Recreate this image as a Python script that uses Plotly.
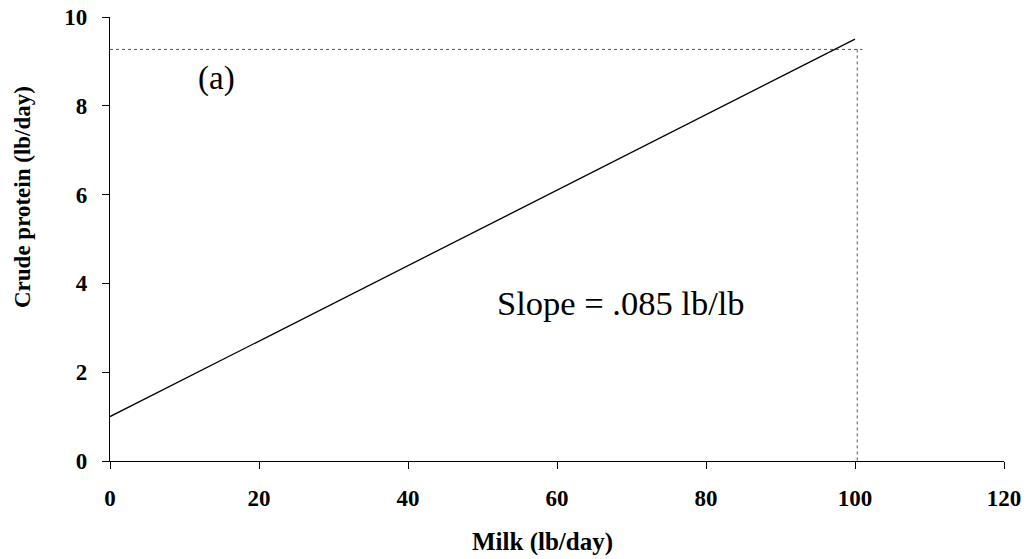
import plotly.graph_objects as go

# Crude protein requirement vs. milk yield
milk = [0, 100]
protein = [1.0, 9.5]

# Dotted reference lines marking the upper point
ref_h_x = [0, 101]
ref_h_y = [9.27, 9.27]
ref_v_x = [100.3, 100.3]
ref_v_y = [9.27, 0]

x_ticks = [0, 20, 40, 60, 80, 100, 120]
y_ticks = [0, 2, 4, 6, 8, 10]

SERIF = "Liberation Serif, Times New Roman, serif"

W, H = 1028, 559
ML, MR, MT, MB = 110, 24, 17, 98
plot_w = W - ML - MR
plot_h = H - MT - MB

fig = go.Figure()
fig.add_trace(go.Scatter(x=ref_h_x, y=ref_h_y, mode="lines",
                         line=dict(color="#555555", width=1, dash="dot"),
                         hoverinfo="skip", showlegend=False))
fig.add_trace(go.Scatter(x=ref_v_x, y=ref_v_y, mode="lines",
                         line=dict(color="#555555", width=1, dash="dot"),
                         hoverinfo="skip", showlegend=False))
fig.add_trace(go.Scatter(x=milk, y=protein, mode="lines",
                         line=dict(color="black", width=1.3),
                         showlegend=False))

fig.add_annotation(x=14.3, y=8.62, text="(a)", showarrow=False,
                   font=dict(family=SERIF, size=33, color="black"))
fig.add_annotation(x=68.6, y=3.56, text="Slope = .085 lb/lb", showarrow=False,
                   font=dict(family=SERIF, size=34.5, color="black"))

# Axis titles placed at pixel positions converted to paper coordinates
fig.add_annotation(x=(542 - ML) / plot_w, xref="paper",
                   y=(H - MB - 542) / plot_h, yref="paper",
                   xanchor="center", yanchor="middle",
                   text="Milk (lb/day)", showarrow=False,
                   font=dict(family=SERIF, size=25, color="black", weight="bold"))
fig.add_annotation(x=(23 - ML) / plot_w, xref="paper",
                   y=(H - MB - 197) / plot_h, yref="paper",
                   xanchor="center", yanchor="middle",
                   text="Crude protein (lb/day)", showarrow=False, textangle=-90,
                   font=dict(family=SERIF, size=23, color="black", weight="bold"))

axis_common = dict(ticks="outside", ticklen=7, tickcolor="black", tickwidth=1.3,
                   showline=True, linecolor="black", linewidth=1.3,
                   showgrid=False, zeroline=False, automargin=False,
                   tickfont=dict(family=SERIF, size=23, color="black", weight="bold"))

fig.update_layout(
    width=W, height=H,
    margin=dict(l=ML, r=MR, t=MT, b=MB),
    paper_bgcolor="white", plot_bgcolor="white",
    xaxis=dict(range=[0, 120], tickvals=x_ticks, ticklabelstandoff=9, **axis_common),
    yaxis=dict(range=[0, 10], tickvals=y_ticks, ticklabelstandoff=10, **axis_common),
)

fig.write_html("out.html")
